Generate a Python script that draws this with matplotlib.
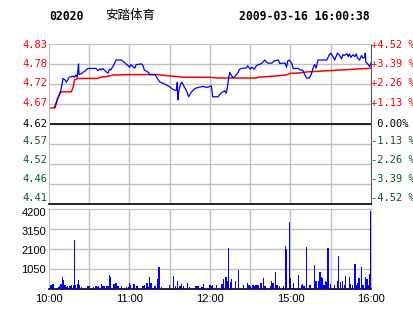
import numpy as np
import matplotlib
matplotlib.use('Agg')
import matplotlib.pyplot as plt
from matplotlib.transforms import blended_transform_factory, offset_copy

# stock header
code = '02020'
name = '安踏体育'
stamp = '2009-03-16 16:00:38'
prev_close = 4.62
pct_levels = [4.52, 3.39, 2.26, 1.13, 0.0, -1.13, -2.26, -3.39, -4.52]

# minute price line (minutes after 10:00, trading time only)
price_min = [4, 5, 7, 9, 10, 10.4, 12, 13, 14, 15, 18, 19, 20, 21, 22, 22.4, 24, 27, 29, 35, 36.5,
             38, 39, 40, 43, 44, 45, 46, 48, 50, 54, 56, 59, 60, 61, 63, 64, 65, 69, 70, 71, 74,
             75, 79, 80, 82.5, 85, 87, 90, 92, 95, 95.6, 96.1, 96.7, 98, 99, 101, 103, 104, 106,
             109, 112, 115, 117, 118.5, 121, 122, 126, 128, 131, 132, 133, 134, 134.7, 136, 137,
             138, 141, 142, 145, 147, 148, 150, 151, 152, 153, 154.5, 156, 158, 161, 162, 163,
             166, 168, 171, 172, 176, 177, 178, 179, 181, 182, 186, 187, 189, 191, 192, 194, 195.5,
             197, 198, 199, 200.5, 207, 208, 209, 210, 212, 213, 214, 215, 216.6, 218, 219, 220,
             222, 223, 224, 225, 226.6, 228, 229, 230, 231.5, 233, 234, 235.3, 235.7, 236.2, 237,
             238, 239, 240]
price = [4.664, 4.672, 4.690, 4.711, 4.729, 4.739, 4.735, 4.729, 4.735, 4.742, 4.745, 4.742, 4.748,
         4.742, 4.777, 4.749, 4.751, 4.759, 4.765, 4.765, 4.759, 4.764, 4.761, 4.765, 4.755, 4.753,
         4.763, 4.761, 4.772, 4.787, 4.787, 4.781, 4.772, 4.768, 4.775, 4.768, 4.766, 4.775, 4.777,
         4.773, 4.761, 4.755, 4.749, 4.749, 4.743, 4.730, 4.726, 4.723, 4.717, 4.711, 4.707, 4.729,
         4.683, 4.705, 4.724, 4.729, 4.716, 4.703, 4.691, 4.703, 4.713, 4.716, 4.718, 4.716, 4.716,
         4.720, 4.691, 4.691, 4.700, 4.707, 4.700, 4.716, 4.742, 4.755, 4.746, 4.742, 4.742, 4.755,
         4.763, 4.766, 4.766, 4.772, 4.763, 4.768, 4.766, 4.763, 4.772, 4.775, 4.777, 4.787, 4.782,
         4.779, 4.779, 4.785, 4.787, 4.778, 4.779, 4.768, 4.785, 4.787, 4.778, 4.765, 4.765, 4.761,
         4.761, 4.746, 4.740, 4.740, 4.750, 4.768, 4.775, 4.766, 4.787, 4.787, 4.794, 4.801, 4.805,
         4.794, 4.787, 4.796, 4.805, 4.799, 4.790, 4.801, 4.799, 4.803, 4.796, 4.803, 4.794, 4.801,
         4.796, 4.803, 4.792, 4.787, 4.799, 4.792, 4.794, 4.805, 4.781, 4.779, 4.775, 4.770, 4.779]

# average price line
avg_min = [1.5, 4.5, 6.5, 9, 16.6, 18, 19, 21.6, 36.5, 38, 43, 48, 60, 80, 91.5, 101, 120, 126,
           154.5, 156, 168, 177, 179.4, 185.6, 192.6, 207.3, 222.2, 237.2, 240]
avg_price = [4.662, 4.662, 4.688, 4.704, 4.704, 4.716, 4.735, 4.739, 4.739, 4.742, 4.744, 4.748,
             4.749, 4.749, 4.745, 4.742, 4.742, 4.740, 4.740, 4.742, 4.745, 4.748, 4.752, 4.753,
             4.756, 4.759, 4.762, 4.765, 4.766]

# volume bars
vol_min = [1, 2, 3, 7, 8, 9, 10, 11, 12, 13, 14, 15, 16, 17, 18, 19, 20, 21, 22, 23, 24, 29, 30,
           33, 35, 36, 37, 39, 40, 41, 43, 44, 45, 46, 48, 49, 50, 51, 52, 54, 58, 59, 60, 61, 63,
           64, 65, 66, 70, 71, 73, 74, 75, 76, 79, 81, 82, 84, 90, 93, 94, 96, 97, 98, 99, 100,
           103, 105, 109, 110, 111, 114, 115, 120, 121, 122, 125, 129, 130, 132, 133, 134, 135,
           136, 139, 141, 145, 148, 149, 150, 152, 153, 154, 155, 156, 158, 160, 161, 165, 166,
           167, 169, 170, 172, 175, 176, 177, 179, 180, 182, 186, 188, 189, 190, 192, 194, 195,
           198, 199, 201, 202, 203, 204, 205, 206, 207, 208, 210, 213, 215, 216, 217, 219, 220,
           221, 224, 225, 226, 228, 229, 230, 231, 233, 234, 236, 237, 238, 239, 240]
vol = [200, 200, 250, 90, 145, 250, 630, 470, 180, 90, 125, 145, 110, 160, 180, 2570, 200, 250,
       470, 180, 90, 110, 145, 90, 145, 90, 145, 250, 110, 110, 145, 110, 735, 590, 235, 250, 290,
       110, 145, 145, 90, 90, 305, 200, 215, 250, 145, 145, 145, 200, 305, 90, 590, 305, 145, 520,
       1110, 90, 200, 680, 145, 410, 145, 145, 235, 145, 305, 90, 125, 145, 145, 90, 250, 177,
       140, 177, 177, 212, 480, 585, 390, 2130, 355, 480, 390, 975, 177, 265, 177, 140, 177, 140,
       177, 177, 177, 265, 530, 140, 125, 390, 265, 885, 177, 125, 140, 2250, 2110, 3490, 565,
       300, 710, 177, 230, 140, 2200, 177, 177, 1240, 410, 410, 885, 585, 530, 177, 410, 355,
       2130, 230, 177, 410, 1720, 355, 410, 177, 655, 585, 230, 177, 1295, 177, 300, 530, 1115,
       177, 585, 495, 177, 760, 4075]
vol_ticks = [1050, 2100, 3150, 4200]

time_ticks = [0, 60, 120, 180, 240]
time_labels = ['10:00', '11:00', '12:00', '15:00', '16:00']

RED = '#ff0000'
GREEN = '#0b5a1e'
GRID = '#c0c0c0'
mono = 'DejaVu Sans Mono'

fig = plt.figure(figsize=(4.14, 3.14), dpi=100)
ax = fig.add_axes([49/414, 1 - 204/314, 322/414, 160/314])
axv = fig.add_axes([49/414, 1 - 288.5/314, 322/414, 79.5/314])

# header
fig.text(49/414, 1 - 16/314, code, family=mono, weight='bold', fontsize=8.3, va='center')
fig.text(105/414, 1 - 16/314, name, family=['Noto Sans CJK SC', 'DejaVu Sans'], fontsize=9,
         va='center')
fig.text(370/414, 1 - 16/314, stamp, family=mono, weight='bold', fontsize=8.3, va='center',
         ha='right')

# price panel
levels = [prev_close * (1 + p / 100) for p in pct_levels]
ax.set_xlim(0, 240)
ax.set_ylim(levels[-1], levels[0])
for t in range(30, 240, 30):
    ax.axvline(t, color=GRID, lw=1, zorder=1)
for lv in levels[1:-1]:
    ax.axhline(lv, color=GRID, lw=1, zorder=1)
ax.axhline(prev_close, color='black', lw=1.2, zorder=2)
ax.plot(avg_min, avg_price, color=RED, lw=1.1, zorder=3)
ax.plot(price_min, price, color='#0000ff', lw=0.9, zorder=4)
ax.set_xticks([])
ax.set_yticks([])

# labels sit a little above the lower grid lines, like the original
lift = [-1, 0, 1, 1, 0, 3, 4, 5, 6]
tr = blended_transform_factory(ax.transAxes, ax.transData)
for lv, p, dy in zip(levels, pct_levels, lift):
    c = RED if p > 0 else ('black' if p == 0 else GREEN)
    if p > 0:
        s = '+%.2f %%' % p
    elif p == 0:
        s = ' 0.00%'
    else:
        s = '-%.2f %%' % abs(p)
    ax.text(0, lv, '%.2f' % lv, transform=offset_copy(tr, fig=fig, x=-2, y=dy, units='dots'),
            family=mono, fontsize=7.5, color=c, ha='right', va='center')
    ax.text(1.0, lv, s, transform=offset_copy(tr, fig=fig, x=0, y=dy, units='dots'),
            family=mono, fontsize=7.5, color=c, ha='left', va='center', clip_on=False)

for side in ['top', 'left']:
    ax.spines[side].set_color(GRID)
ax.spines['right'].set_color('#555555')
ax.spines['bottom'].set_color('black')
ax.spines['bottom'].set_linewidth(1.2)

# volume panel
axv.set_xlim(0, 240)
axv.set_ylim(0, vol_ticks[-1])
for t in range(30, 240, 30):
    axv.axvline(t, color=GRID, lw=1, zorder=1)
for v in vol_ticks[:-1]:
    axv.axhline(v, color=GRID, lw=1, zorder=1)
axv.bar(vol_min, vol, width=0.9, color='#0000ff', lw=0, antialiased=False, zorder=3)
axv.set_yticks([])
trv = blended_transform_factory(axv.transAxes, axv.transData)
for v, dy in zip(vol_ticks, [-1, -2, -3, -4]):
    axv.text(0, v, str(v), transform=offset_copy(trv, fig=fig, x=-3, y=dy, units='dots'),
             family='Liberation Sans', fontsize=8, ha='right', va='center')
axv.set_xticks(time_ticks)
axv.set_xticklabels(time_labels, family='Liberation Sans', fontsize=8)
axv.tick_params(length=0)
axv.tick_params(axis='x', pad=4)
for side in ['top', 'left', 'right']:
    axv.spines[side].set_color(GRID)
axv.spines['bottom'].set_color('black')
axv.spines['bottom'].set_linewidth(1.2)

plt.savefig('out.png', dpi=100)
